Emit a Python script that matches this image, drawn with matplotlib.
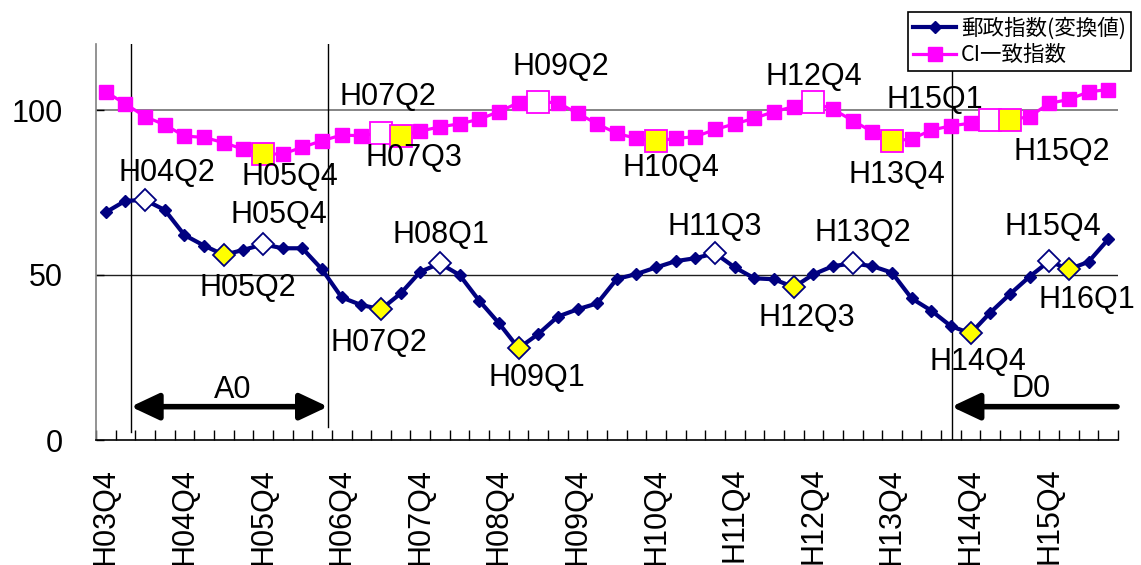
import numpy as np
import matplotlib
matplotlib.use("Agg")
import matplotlib.pyplot as plt
from matplotlib.ticker import FixedLocator

plt.rcParams['font.family'] = ['Liberation Sans', 'DejaVu Sans']

# ---- data ----
quarters = []
_y, _q = 3, 4
for _ in range(52):
    quarters.append(f"H{_y:02d}Q{_q}")
    _q += 1
    if _q > 4:
        _q = 1
        _y += 1

postal_index = [69.0, 72.5, 72.7, 69.7, 62.1, 58.9, 56.1, 57.6, 59.3, 58.1,
                58.1, 51.7, 43.2, 40.9, 39.6, 44.4, 51.0, 53.5, 50.0, 42.2,
                35.4, 27.8, 32.1, 37.4, 39.6, 41.4, 48.8, 50.3, 52.3, 54.2,
                55.1, 56.6, 52.3, 49.0, 48.7, 46.3, 50.2, 52.7, 53.5, 52.7,
                50.7, 42.9, 39.2, 34.5, 32.3, 38.6, 44.2, 49.5, 54.2, 51.7,
                54.0, 60.8]

ci_index = [105.5, 101.8, 98.0, 95.5, 92.1, 91.7, 90.1, 88.1, 86.6, 86.7,
            88.7, 90.7, 92.4, 92.2, 93.1, 92.1, 93.6, 94.9, 95.8, 97.2,
            99.5, 102.2, 102.5, 102.2, 99.0, 95.8, 92.9, 91.4, 90.6, 91.4,
            91.9, 94.1, 95.8, 97.5, 99.5, 101.0, 102.3, 100.2, 96.8, 93.4,
            90.6, 91.2, 93.9, 95.2, 96.0, 97.0, 97.0, 98.0, 102.0, 103.2,
            105.5, 106.2]

postal_peaks = ["H04Q2", "H05Q4", "H08Q1", "H11Q3", "H13Q2", "H15Q4"]
postal_troughs = ["H05Q2", "H07Q2", "H09Q1", "H12Q3", "H14Q4", "H16Q1"]
ci_peaks = ["H07Q2", "H09Q2", "H12Q4", "H15Q1"]
ci_troughs = ["H05Q4", "H07Q3", "H10Q4", "H13Q4", "H15Q2"]

label_ticks = ["H03Q4", "H04Q4", "H05Q4", "H06Q4", "H07Q4", "H08Q4", "H09Q4",
               "H10Q4", "H11Q4", "H12Q4", "H13Q4", "H14Q4", "H15Q4"]

series_names = ["郵政指数(変換値)", "CI一致指数"]

# ---- styling (pixel offsets of labels relative to their points) ----
postal_offsets = {"H04Q2": (22, -27), "H05Q2": (24, 33), "H05Q4": (16, -29),
                  "H07Q2": (-2, 34), "H08Q1": (1, -28), "H09Q1": (18, 30),
                  "H11Q3": (0, -26), "H12Q3": (13, 31), "H13Q2": (10, -30),
                  "H14Q4": (7, 29), "H15Q4": (4, -34), "H16Q1": (18, 31)}
ci_offsets = {"H05Q4": (27, 23), "H07Q2": (7, -36), "H07Q3": (13, 22),
              "H09Q2": (23, -35), "H10Q4": (15, 27), "H12Q4": (0, -25),
              "H13Q4": (5, 34), "H15Q1": (-55, -20), "H15Q2": (52, 32)}

NAVY = '#000080'
MAG = '#FF00FF'
YEL = '#FFFF00'

W, H = 1141, 565
fig = plt.figure(figsize=(W / 100, H / 100), dpi=100)
ax = fig.add_axes([96 / W, 1 - 440 / H, (1118 - 96) / W, (440 - 44) / H])

x = np.arange(len(quarters))
idx = {q: i for i, q in enumerate(quarters)}

# gridlines
ax.set_ylim(0, 120)
ax.set_xlim(-0.5, len(quarters) - 0.5)
ax.axhline(50, color='#202020', lw=1, zorder=1)
ax.axhline(100, color='#707070', lw=1.2, zorder=1)

# vertical period lines
for vx, bottom in [(1.27, 2.5), (11.3, 4.0), (43.03, 0)]:
    ax.plot([vx, vx], [bottom, 120], color='black', lw=1, zorder=2)

# series
l1, = ax.plot(x, postal_index, color=NAVY, lw=3, marker='D', ms=6.5,
              mfc=NAVY, mec=NAVY, zorder=4, label=series_names[0])
l2, = ax.plot(x, ci_index, color=MAG, lw=2.3, marker='s', ms=9.5,
              mfc=MAG, mec=MAG, zorder=4, label=series_names[1])

def special(names, vals, marker, ms, fc, ec, mew):
    ii = [idx[n] for n in names]
    ax.plot(ii, [vals[i] for i in ii], ls='none', marker=marker, ms=ms,
            mfc=fc, mec=ec, mew=mew, zorder=5)

special(postal_peaks, postal_index, 'D', 11, 'white', NAVY, 1.3)
special(postal_troughs, postal_index, 'D', 11, YEL, NAVY, 1.3)
special(ci_peaks, ci_index, 's', 15.5, 'white', MAG, 1.3)
special(ci_troughs, ci_index, 's', 15.5, YEL, MAG, 1.3)

def labels(offsets, vals):
    for name, (dx, dy) in offsets.items():
        i = idx[name]
        ax.annotate(name, xy=(i, vals[i]), xytext=(dx, -dy),
                    textcoords='offset pixels', ha='center', va='center',
                    fontsize=22, zorder=6)

labels(postal_offsets, postal_index)
labels(ci_offsets, ci_index)

# period arrows
arrow_y = 10.1
ax.annotate('', xy=(11.3, arrow_y), xytext=(1.27, arrow_y),
            arrowprops=dict(arrowstyle='<|-|>,head_length=0.85,head_width=0.4',
                            mutation_scale=20, lw=4, color='black',
                            shrinkA=0, shrinkB=0), zorder=6)
ax.text(6.45, 15.2, 'A0', ha='center', va='center', fontsize=22)
ax.annotate('', xy=(43.03, arrow_y), xytext=(51.45, arrow_y),
            arrowprops=dict(arrowstyle='-|>,head_length=0.85,head_width=0.4',
                            mutation_scale=20, lw=4, color='black',
                            shrinkA=0, shrinkB=0), zorder=6)
ax.text(47.1, 15.4, 'D0', ha='center', va='center', fontsize=22)

# axes styling
for s in ['top', 'right']:
    ax.spines[s].set_visible(False)
ax.spines['left'].set_color('#808080')
ax.spines['left'].set_linewidth(1.2)
ax.spines['bottom'].set_color('black')
ax.spines['bottom'].set_linewidth(1.2)

ax.set_yticks([0, 50, 100])
ax.set_yticklabels(['0', '50', '100'], fontsize=22)
ax.tick_params(axis='y', direction='in', length=6, width=1, pad=24)

ax.set_xticks([idx[t] for t in label_ticks])
ax.set_xticklabels(label_ticks, rotation=90, fontsize=22)
ax.tick_params(axis='x', which='major', length=0, pad=20)
ax.xaxis.set_minor_locator(FixedLocator(np.arange(-0.5, len(quarters), 1.0)))
ax.tick_params(axis='x', which='minor', direction='in', length=7, width=1,
               color='black')

# legend
leg = fig.legend(handles=[l1, l2], loc='upper left',
                 bbox_to_anchor=(908 / W, 1 - 12 / H),
                 prop={'family': ['Noto Sans CJK JP', 'DejaVu Sans'], 'size': 15.5},
                 frameon=True, fancybox=False, edgecolor='black',
                 framealpha=1, borderpad=0.25, labelspacing=0.2,
                 handlelength=2.0, handletextpad=0.2, borderaxespad=0,
                 markerscale=1.0)
leg.get_frame().set_linewidth(1.2)

fig.savefig('out.png', dpi=100)
